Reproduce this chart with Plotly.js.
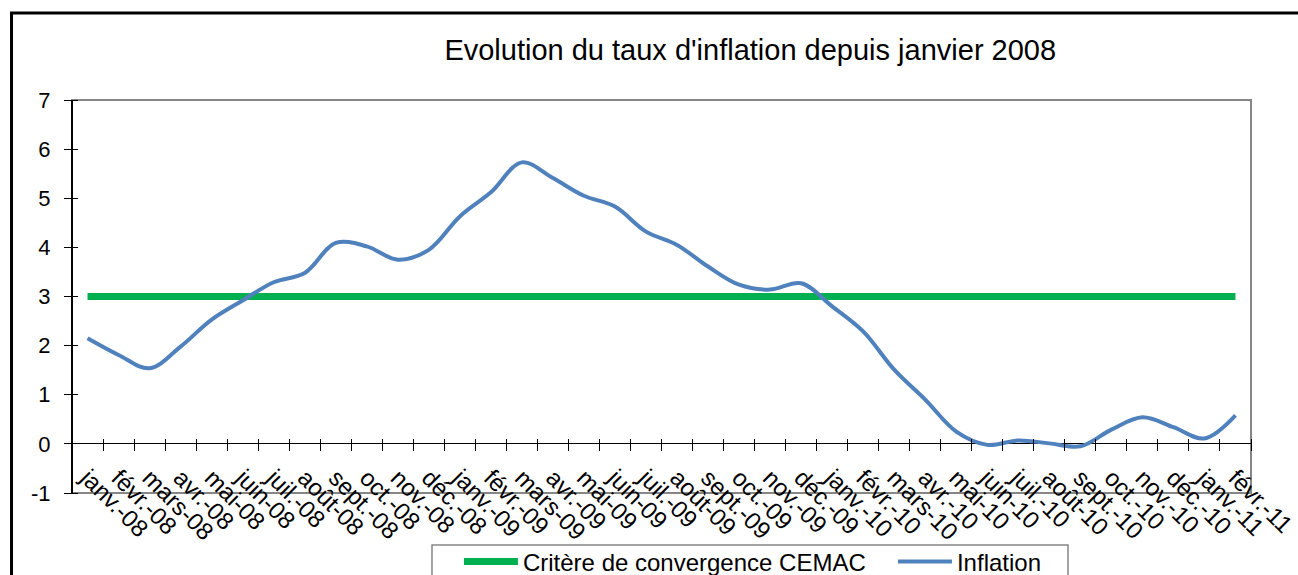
<!DOCTYPE html>
<html>
<head>
<meta charset="utf-8">
<script src="https://cdn.plot.ly/plotly-3.0.1.min.js"></script>
<style>
html,body{margin:0;padding:0;background:#fff;}
#chart{width:1298px;height:575px;}
</style>
</head>
<body>
<div id="chart"></div>
<script>
const months = ['janv.-08','févr.-08','mars-08','avr.-08','mai-08','juin-08','juil.-08','août-08','sept.-08','oct.-08','nov.-08','déc.-08',
  'janv.-09','févr.-09','mars-09','avr.-09','mai-09','juin-09','juil.-09','août-09','sept.-09','oct.-09','nov.-09','déc.-09',
  'janv.-10','févr.-10','mars-10','avr.-10','mai-10','juin-10','juil.-10','août-10','sept.-10','oct.-10','nov.-10','déc.-10',
  'janv.-11','févr.-11'];

const critereCEMAC = [3,3,3,3,3,3,3,3,3,3,3,3,3,3,3,3,3,3,3,3,3,3,3,3,3,3,3,3,3,3,3,3,3,3,3,3,3,3];

const inflation = [2.15,1.81,1.54,1.98,2.53,2.92,3.29,3.48,4.09,4.02,3.75,3.95,
  4.63,5.12,5.73,5.41,5.05,4.83,4.32,4.05,3.61,3.24,3.14,3.27,
  2.80,2.29,1.51,0.90,0.25,-0.02,0.07,0.01,-0.05,0.29,0.54,0.34,
  0.11,0.58];

const yTicks = [-1,0,1,2,3,4,5,6,7];

const FONT = 'Liberation Sans, Arial, sans-serif';

const traces = [
  {
    x: months, y: critereCEMAC, type: 'scatter', mode: 'lines',
    name: 'Critère de convergence CEMAC',
    legendwidth: 365,
    line: {color: '#00B050', width: 7}
  },
  {
    x: months, y: inflation, type: 'scatter', mode: 'lines',
    name: 'Inflation',
    line: {color: '#4F81BD', width: 4, shape: 'spline', smoothing: 1}
  }
];

const layout = {
  width: 1298, height: 575,
  margin: {l: 72, r: 47, t: 100, b: 82, autoexpand: false},
  paper_bgcolor: '#fff', plot_bgcolor: '#fff',
  font: {family: FONT, color: '#000'},
  showlegend: true,
  title: {
    text: "Evolution du taux d'inflation depuis janvier 2008",
    font: {family: FONT, size: 29, color: '#000'},
    x: 0.578, xref: 'container', xanchor: 'center',
    y: 0.913, yref: 'container', yanchor: 'middle'
  },
  xaxis: {
    type: 'category', categoryorder: 'array', categoryarray: months,
    range: [-0.5, 37.5],
    anchor: 'free', position: 0.13995,
    ticks: 'outside', ticklen: 12, tickwidth: 1, tickcolor: '#000',
    tickson: 'boundaries',
    ticklabelstandoff: 20,
    showline: false, showgrid: false, zeroline: false,
    tickangle: 45,
    tickfont: {family: FONT, size: 24, color: '#000'}
  },
  yaxis: {
    range: [-1, 7], tickvals: yTicks, ticktext: yTicks.map(String),
    anchor: 'free', position: 0.00509, side: 'left',
    ticks: 'outside', ticklen: 14, tickwidth: 1, tickcolor: '#000',
    ticklabelstandoff: 9,
    showline: false, showgrid: false,
    zeroline: true, zerolinecolor: '#000', zerolinewidth: 1,
    tickfont: {family: FONT, size: 22, color: '#000'}
  },
  legend: {
    orientation: 'h',
    x: 0.3282, xanchor: 'left',
    y: -0.1183, yanchor: 'top',
    itemwidth: 54,
    font: {family: FONT, size: 24, color: '#000'},
    borderwidth: 0, bgcolor: 'rgba(0,0,0,0)'
  },
  shapes: [
    {type: 'rect', xref: 'paper', yref: 'paper', x0: -0.0513, x1: 1.1, y0: -0.3, y1: 1.2214,
     line: {color: '#000', width: 3}, fillcolor: 'rgba(0,0,0,0)', layer: 'below'},
    {type: 'rect', xref: 'paper', yref: 'paper', x0: 0, x1: 1, y0: 0, y1: 1,
     line: {color: '#868686', width: 2}, fillcolor: 'rgba(0,0,0,0)', layer: 'below'},
    {type: 'line', xref: 'paper', yref: 'paper', x0: 0, x1: 0, y0: 0, y1: 1,
     line: {color: '#000', width: 2}, layer: 'below'},
    {type: 'rect', xref: 'paper', yref: 'paper', x0: 0.30534, x1: 0.84478, y0: -0.35, y1: -0.13232,
     line: {color: '#868686', width: 1.5}, fillcolor: '#fff', layer: 'below'}
  ]
};

Plotly.newPlot('chart', traces, layout, {displayModeBar: false, staticPlot: true});
</script>
</body>
</html>
